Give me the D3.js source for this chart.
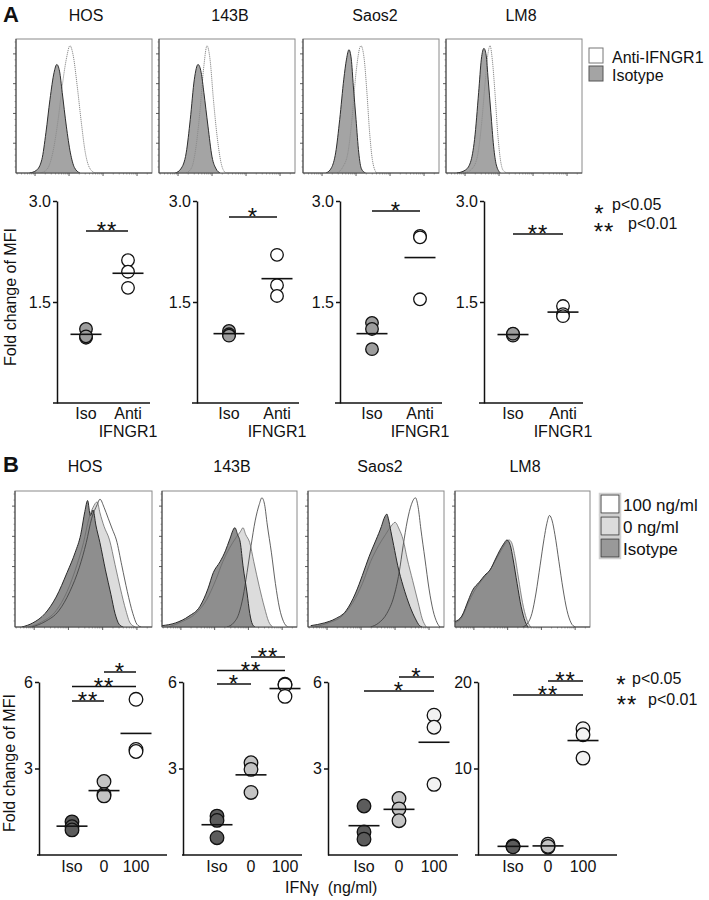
<!DOCTYPE html>
<html><head><meta charset="utf-8">
<script src="https://cdn.jsdelivr.net/npm/d3@7"></script>
<style>body{margin:0;background:#fff} svg{display:block} text{font-family:"Liberation Sans",Arial,sans-serif}</style>
</head><body><svg id="c" width="709" height="900"></svg>
<script>
// ---------------- DATA ----------------
const cellLines = ["HOS","143B","Saos2","LM8"];
const groupsA = ["Iso","Anti IFNGR1"];
const groupsB = ["Iso","0","100"];
const ticksA = [1.5, 3.0];
const yMaxA = 3;
const ticksB = [[3,6],[3,6],[3,6],[10,20]];
const yMaxB = [6,6,6,20];

// Panel A fold change of MFI (Iso, Anti-IFNGR1)
const aIso  = [[1.10,0.97,0.99],[1.07,1.02,1.00],[1.19,1.10,0.80],[1.02,1.00,1.03]];
const aAnti = [[2.12,1.95,1.71],[2.20,1.75,1.59],[2.48,2.46,1.54],[1.44,1.32,1.29]];
const sigA  = [[[0,1,"**"]],[[0,1,"*"]],[[0,1,"*"]],[[0,1,"**"]]];

// Panel B fold change of MFI (Iso, 0 ng/ml, 100 ng/ml)
const bIso     = [[1.15,0.98,0.87],[1.35,1.20,0.60],[1.70,0.80,0.55],[1.00,1.05,0.95]];
const bZero    = [[2.55,2.10,2.05],[3.20,2.97,2.17],[1.96,1.60,1.19],[1.25,0.90,1.00]];
const bHundred = [[5.40,3.66,3.59],[5.92,5.90,5.50],[4.85,4.43,2.45],[14.6,13.9,11.2]];
const sigB = [
  [[0,1,"**"],[0,2,"**"],[1,2,"*"]],
  [[0,1,"*"],[0,2,"**"],[1,2,"**"]],
  [[0,2,"*"],[1,2,"*"]],
  [[0,2,"**"],[1,2,"**"]]
];

// Histogram traces: [fluorescence (% of axis), count (% of max)]
const histAIso = [
  [[10,0],[15,2],[19,10],[22,30],[25,55],[28,75],[30,81],[32,76],[34,60],[37,35],[40,15],[43,4],[47,0]],
  [[12,0],[16,3],[20,15],[23,40],[26,70],[28.7,81],[31,75],[33,60],[36,35],[39,12],[42,3],[45,0]],
  [[17,0],[21,4],[24,15],[27,40],[30,70],[32,85],[33.8,92],[35.5,85],[37,65],[39,40],[41,15],[43,3],[46,0]],
  [[8,0],[14,2],[18,8],[21,25],[24,60],[26,85],[27.9,93],[29.5,88],[31,70],[33,45],[35,20],[37,6],[40,0]]
];
const histAAnti = [
  [[18,0],[23,3],[27,15],[31,40],[34,65],[37,85],[39.7,95],[42,88],[45,65],[48,38],[51,15],[54,4],[58,0]],
  [[20,0],[24,4],[27,18],[30,45],[33,80],[35.3,95],[37.5,85],[40,55],[43,25],[46,6],[49,0]],
  [[25,0],[29,4],[33,15],[36,40],[39,75],[42.6,95],[45,85],[47,60],[49,30],[51,10],[54,0]],
  [[14,0],[19,3],[23,12],[26,35],[29,70],[31,90],[32.4,95],[34,85],[36,60],[38,30],[40,10],[42,2],[45,0]]
];
const histBIso = [
  [[5,0],[13,3],[22,10],[30,22],[38,40],[44,55],[48,68],[51,85],[53,93],[55,82],[57,86],[59,75],[62,62],[66,42],[70,24],[73,10],[76,2],[79,0]],
  [[0,1],[10,3],[20,8],[28,15],[34,28],[38,40],[43,48],[47,56],[50,64],[54,73],[56,68],[58,62],[60,45],[63,25],[65,10],[67,2],[69,0]],
  [[2,1],[12,3],[20,6],[28,12],[35,25],[40,38],[45,52],[50,64],[54,74],[56,80],[58,83],[59,80],[61,70],[63,60],[66,45],[70,30],[75,15],[79,6],[82,1],[84,0]],
  [[0,4],[5,8],[10,20],[13,27],[18,33],[22,38],[26,42],[30,50],[33,56],[36,61],[38.5,64],[41,60],[43,50],[46,32],[49,15],[52,4],[54,0]]
];
const histBZero = [
  [[10,0],[20,4],[30,12],[38,26],[45,45],[50,62],[54,80],[57,88],[60,92],[62,84],[65,74],[69,64],[73,46],[77,28],[81,12],[84,3],[88,0]],
  [[5,0],[15,4],[25,10],[33,20],[40,35],[45,48],[50,58],[55,66],[58,70],[60,73],[62,68],[65,62],[68,48],[72,30],[76,14],[79,4],[82,0]],
  [[5,0],[15,3],[25,8],[33,18],[40,32],[46,48],[52,60],[57,68],[61,74],[64,77],[67,72],[70,64],[73,50],[77,34],[81,18],[84,6],[87,0]],
  [[0,3],[5,7],[10,18],[14,26],[18,32],[22,37],[26,42],[30,49],[34,56],[37,61],[40,64],[42,62],[44,54],[47,36],[50,18],[53,6],[56,0]]
];
const histBHundred = [
  [[12,0],[22,4],[32,12],[40,26],[47,44],[52,62],[56,80],[60,90],[62,94],[65,88],[68,80],[71,72],[74,64],[78,45],[82,26],[86,10],[89,2],[92,0]],
  [[48,0],[53,3],[57,10],[60,22],[63,40],[66,60],[69,78],[72,90],[74,95],[76,90],[78,75],[81,55],[84,32],[87,14],[90,4],[93,0]],
  [[46,0],[52,3],[58,10],[63,22],[67,40],[70,60],[73,78],[76,90],[79,95],[81,88],[83,72],[86,50],[89,28],[92,12],[95,3],[97,0]],
  [[50,0],[54,3],[57,10],[60,25],[63,45],[66,65],[68,76],[70,82],[72,78],[74,68],[77,48],[80,28],[83,12],[86,3],[89,0]]
];

// ---------------- LAYOUT ----------------
const svg = d3.select("#c");
const INK = "#111";
let clipN = 0;

function txt(x, y, s, o = {}) {
  const t = svg.append("text").attr("x", x).attr("y", y).text(s)
    .attr("font-size", o.size || 16).attr("text-anchor", o.anchor || "middle").attr("fill", INK);
  if (o.weight) t.attr("font-weight", o.weight);
  return t;
}

function drawHist(box, curves) {
  const [x0, y0, x1, y1] = box;
  const g = svg.append("g");
  const x = d3.scaleLinear().domain([0, 100]).range([x0, x1]);
  const y = d3.scaleLinear().domain([0, 100]).range([y1, y0]);
  const id = "clip" + (clipN++);
  svg.append("clipPath").attr("id", id).append("rect")
    .attr("x", x0).attr("y", y0).attr("width", x1 - x0).attr("height", y1 - y0);
  g.append("rect").attr("x", x0).attr("y", y0).attr("width", x1 - x0).attr("height", y1 - y0)
    .attr("fill", "#fff").attr("stroke", "#8a8a8a").attr("stroke-width", 1);
  const area = d3.area().x(d => x(d[0])).y0(y(0)).y1(d => y(d[1])).curve(d3.curveMonotoneX);
  const line = d3.line().x(d => x(d[0])).y(d => y(d[1])).curve(d3.curveMonotoneX);
  const cg = g.append("g").attr("clip-path", `url(#${id})`);
  curves.forEach(c => cg.append("path").attr("d", area(c.pts)).attr("fill", c.fill));
  curves.forEach(c => cg.append("path").attr("d", line(c.pts)).attr("fill", "none")
    .attr("stroke", c.stroke).attr("stroke-width", c.sw || 0.9).attr("stroke-dasharray", c.dash || null));
  // axes
  const yt = d3.scaleLinear().domain([0, 4.5]).range([y1, y0]);
  const minorY = d3.range(1, 23).map(i => i * 0.2).filter(v => Math.abs(v - Math.round(v)) > 0.01);
  [1, 2, 3, 4].forEach(v => g.append("line").attr("x1", x0 - 3).attr("x2", x0).attr("y1", yt(v)).attr("y2", yt(v)).attr("stroke", "#333").attr("stroke-width", 0.8));
  minorY.forEach(v => g.append("line").attr("x1", x0 - 1.5).attr("x2", x0).attr("y1", yt(v)).attr("y2", yt(v)).attr("stroke", "#555").attr("stroke-width", 0.5));
  const dec = [14, 39, 64, 89];
  dec.forEach(d => {
    g.append("line").attr("x1", x(d)).attr("x2", x(d)).attr("y1", y1).attr("y2", y1 + 3).attr("stroke", "#333").attr("stroke-width", 0.8);
    [2,3,4,5,6,7,8,9].forEach(k => {
      const v = d + 25 * Math.log10(k);
      if (v < 100) g.append("line").attr("x1", x(v)).attr("x2", x(v)).attr("y1", y1).attr("y2", y1 + 1.5).attr("stroke", "#555").attr("stroke-width", 0.5);
    });
    [2,3,4,5,6,7,8,9].forEach(k => {
      const v = d - 25 + 25 * Math.log10(k);
      if (d === 14 && v > 0) g.append("line").attr("x1", x(v)).attr("x2", x(v)).attr("y1", y1).attr("y2", y1 + 1.5).attr("stroke", "#555").attr("stroke-width", 0.5);
    });
  });
  g.append("line").attr("x1", x0).attr("x2", x0).attr("y1", y0).attr("y2", y1).attr("stroke", "#444").attr("stroke-width", 1);
  g.append("line").attr("x1", x0).attr("x2", x1).attr("y1", y1).attr("y2", y1).attr("stroke", "#444").attr("stroke-width", 1);
}

function drawDot(p) {
  const y = d3.scaleLinear().domain([0, p.yMax]).range([p.yBottom, p.yTop]);
  const x = d3.scalePoint().domain(p.groups).range(p.xRange);
  const gy = svg.append("g").attr("transform", `translate(${p.axisX},0)`)
    .call(d3.axisLeft(y).tickValues(p.ticks).tickSize(4).tickSizeOuter(0).tickPadding(2).tickFormat(p.fmt));
  gy.select(".domain").attr("stroke", INK).attr("stroke-width", 1.5);
  gy.selectAll(".tick line").attr("stroke", INK).attr("stroke-width", 1.5);
  gy.selectAll(".tick text").attr("font-size", 16).attr("fill", INK)
    .attr("font-family", '"Liberation Sans", Arial, sans-serif');
  svg.append("line").attr("x1", p.xLine[0]).attr("x2", p.xLine[1]).attr("y1", p.yBottom).attr("y2", p.yBottom)
    .attr("stroke", INK).attr("stroke-width", 1.5);
  // category labels
  p.groups.forEach((gname, i) => {
    const parts = gname.split(" ");
    parts.forEach((s, k) => txt(x(gname), p.labelY + k * 18, s, { size: 16 }));
  });
  // points
  p.series.forEach((vals, i) => {
    const cx = x(p.groups[i]);
    vals.forEach(v => svg.append("circle").attr("cx", cx).attr("cy", y(v)).attr("r", p.r)
      .attr("fill", p.fills[i]).attr("stroke", INK).attr("stroke-width", 1.3));
    const m = d3.mean(vals);
    svg.append("line").attr("x1", cx - 15.5).attr("x2", cx + 15.5).attr("y1", y(m)).attr("y2", y(m))
      .attr("stroke", INK).attr("stroke-width", 1.6);
  });
  // significance
  p.sig.forEach(([i, j, lab], k) => {
    const by = p.sigY - k * p.sigStep;
    const xa = x(p.groups[i]), xb = x(p.groups[j]);
    svg.append("line").attr("x1", xa).attr("x2", xb).attr("y1", by).attr("y2", by).attr("stroke", INK).attr("stroke-width", 1.5);
    txt((xa + xb) / 2, by + 8, lab, { size: 24 }).attr("letter-spacing", 1);
  });
}

// ---------- Panel A ----------
txt(3, 22, "A", { size: 22, anchor: "start", weight: "bold" });
const titleAX = [86, 230, 375, 521];
cellLines.forEach((c, i) => txt(titleAX[i], 21, c));
const histBoxA = [[16,39,152,173],[159,39,295,173],[303,39,439,173],[446,39,582,173]];
cellLines.forEach((c, i) => drawHist(histBoxA[i], [
  { pts: histAAnti[i], fill: "#ffffff", stroke: "#8d8d8d", dash: "1.2,0.8", sw: 1 },
  { pts: histAIso[i], fill: "#a4a4a4", stroke: "#2e2e2e", sw: 1 }
]));
// legend A
svg.append("rect").attr("x", 589).attr("y", 48).attr("width", 14).attr("height", 15).attr("fill", "#fff").attr("stroke", "#777");
svg.append("rect").attr("x", 589).attr("y", 66).attr("width", 14).attr("height", 15).attr("fill", "#a4a4a4").attr("stroke", "#555");
txt(612, 63, "Anti-IFNGR1", { anchor: "start" });
txt(612, 81, "Isotype", { anchor: "start" });

const dotA = [
  { axisX: 57,  xRange: [86, 128],  xLine: [53, 150],  sigY: 231 },
  { axisX: 197, xRange: [229, 277], xLine: [192, 299], sigY: 217 },
  { axisX: 340, xRange: [372, 420], xLine: [335, 442], sigY: 211 },
  { axisX: 484, xRange: [513, 563], xLine: [479, 583], sigY: 234 }
];
dotA.forEach((L, i) => drawDot(Object.assign({}, L, {
  yMax: yMaxA, yTop: 201, yBottom: 403, ticks: ticksA, fmt: d3.format(".1f"),
  groups: groupsA, series: [aIso[i], aAnti[i]], fills: ["#9d9d9d", "#ffffff"],
  sig: sigA[i], sigStep: 14, labelY: 419, r: 6.3
})));
txt(16, 297, "Fold change of MFI").attr("transform", "rotate(-90,16,297)");
// p legend A
txt(599, 222, "*", { size: 24 });
txt(612, 210, "p<0.05", { anchor: "start" });
txt(604, 240, "**", { size: 24 }).attr("letter-spacing", 1);
txt(628, 229, "p<0.01", { anchor: "start" });

// ---------- Panel B ----------
txt(3, 472, "B", { size: 22, anchor: "start", weight: "bold" });
const titleBX = [85, 232, 380, 525];
cellLines.forEach((c, i) => txt(titleBX[i], 472, c));
const histBoxB = [[15,491,152,627],[162,491,297,627],[308,491,444,627],[455,491,590,627]];
cellLines.forEach((c, i) => drawHist(histBoxB[i], [
  { pts: histBHundred[i], fill: "#ffffff", stroke: "#3a3a3a", sw: 0.8 },
  { pts: histBZero[i], fill: "#dcdcdc", stroke: "#6a6a6a", sw: 0.8 },
  { pts: histBIso[i], fill: "#8e8e8e", stroke: "#2a2a2a", sw: 1 }
]));
// legend B
const legB = [["100 ng/ml", "#ffffff"], ["0 ng/ml", "#dcdcdc"], ["Isotype", "#999999"]];
legB.forEach(([lab, col], k) => {
  const yy = 495 + k * 22;
  svg.append("rect").attr("x", 599.5).attr("y", yy - 1.5).attr("width", 21).attr("height", 21).attr("fill", "none").attr("stroke", "#d0d0d0").attr("stroke-width", 1.5);
  svg.append("rect").attr("x", 601).attr("y", yy).attr("width", 18).attr("height", 18).attr("fill", col).attr("stroke", "#444");
  txt(623, yy + 16, lab, { anchor: "start", size: 17 });
});

const dotB = [
  { axisX: 39,  xRange: [72, 136],  xLine: [37, 167],  sigY: 701, sigStep: 14.5 },
  { axisX: 183, xRange: [217, 285], xLine: [182, 302], sigY: 684, sigStep: 13.5 },
  { axisX: 328, xRange: [364, 434], xLine: [328, 458], sigY: 691, sigStep: 14 },
  { axisX: 478, xRange: [513, 583], xLine: [475, 617], sigY: 695, sigStep: 14 }
];
const fillsB = [
  ["#5c5c5c", "#c4c4c4", "#ffffff"],
  ["#5c5c5c", "#c4c4c4", "#ffffff"],
  ["#5c5c5c", "#c4c4c4", "#f2f2f2"],
  ["#5c5c5c", "#c4c4c4", "#f2f2f2"]
];
dotB.forEach((L, i) => drawDot(Object.assign({}, L, {
  yMax: yMaxB[i], yTop: 682, yBottom: 855, ticks: ticksB[i], fmt: d3.format("d"),
  groups: groupsB, series: [bIso[i], bZero[i], bHundred[i]], fills: fillsB[i],
  sig: sigB[i], labelY: 872, r: 6.8
})));
txt(15, 763, "Fold change of MFI").attr("transform", "rotate(-90,15,763)");
txt(285, 893, "IFNγ  (ng/ml)", { anchor: "start" }).attr("xml:space", "preserve").style("white-space", "pre");
// p legend B
txt(621, 693, "*", { size: 24 });
txt(632, 684, "p<0.05", { anchor: "start" });
txt(627, 713, "**", { size: 24 }).attr("letter-spacing", 1);
txt(648, 705, "p<0.01", { anchor: "start" });
</script></body></html>
